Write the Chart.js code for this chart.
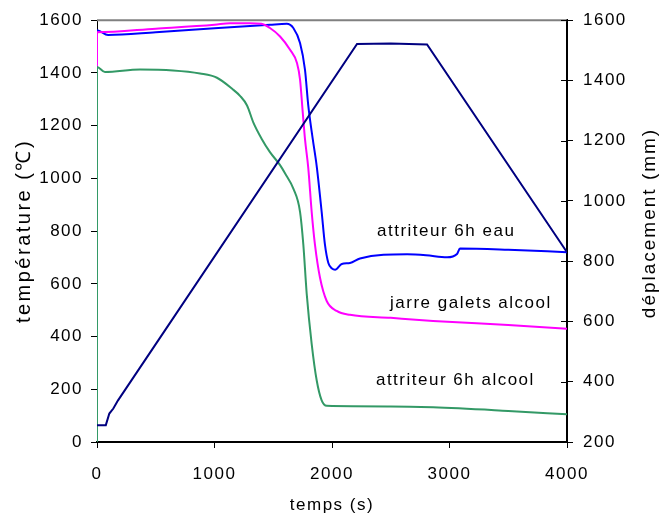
<!DOCTYPE html>
<html>
<head>
<meta charset="utf-8">
<script src="https://cdn.jsdelivr.net/npm/chart.js@4/dist/chart.umd.min.js"></script>
<style>
  html, body { margin: 0; padding: 0; background: #fff; }
  #wrap { width: 662px; height: 517px; }
</style>
</head>
<body>
<div id="wrap"><canvas id="chart" width="662" height="517"></canvas></div>
<script>
/* ---------- Données ---------- */
// temps (s) / température (°C) - axe gauche
const tempsCycle = [0, 75, 105, 139, 179, 2213, 2500, 2809, 4000];
const temperature = [64, 64, 108, 127, 158, 1510, 1512, 1508, 720];

// déplacement (mm) - axe droit
const tempsEau = [0, 0, 94, 500, 1000, 1472, 1615, 1671, 1728, 1770, 1798, 1836, 1870, 1912, 1940, 1969, 2000, 2026, 2083, 2153, 2238, 2639, 2800, 2979, 3064, 3089, 3500, 4000];
const depEau = [200, 1567, 1551, 1560, 1573, 1585, 1588, 1574, 1524, 1436, 1317, 1206, 1115, 964, 855, 794, 776, 772, 791, 794, 809, 823, 820, 813, 824, 842, 838, 830];

const tempsJarre = [0, 0, 500, 1000, 1132, 1300, 1400, 1472, 1558, 1643, 1702, 1728, 1751, 1770, 1798, 1827, 1855, 1898, 1955, 2040, 2153, 2500, 2860, 3500, 4000];
const depJarre = [200, 1560, 1572, 1585, 1590, 1590, 1588, 1574, 1546, 1502, 1458, 1403, 1294, 1206, 1110, 964, 855, 745, 668, 635, 622, 612, 602, 588, 576];

const tempsAlcool = [0, 0, 68, 366, 647, 877, 1021, 1157, 1217, 1277, 1330, 1402, 1472, 1558, 1600, 1671, 1728, 1756, 1785, 1827, 1870, 1912, 1955, 2500, 2860, 3500, 4000];
const depAlcool = [200, 1445, 1428, 1436, 1433, 1423, 1409, 1370, 1349, 1317, 1261, 1206, 1162, 1119, 1092, 1041, 964, 855, 691, 526, 404, 338, 320, 318, 315, 303, 292];

// étiquettes dans le graphique (position en unités des axes x / gauche)
const etiquettes = ['attriteur 6h eau', 'jarre galets alcool', 'attriteur 6h alcool'];
const etiquettesX = [2383, 2494, 2374];
const etiquettesY = [798, 527, 233];

const titreX = 'temps (s)';
const titreY = 'température (℃)';
const titreY2 = 'déplacement (mm)';

const FONT = 'Arial, "Liberation Sans", sans-serif';

function toPoints(xs, ys) {
    return xs.map((x, i) => ({ x: x, y: ys[i] }));
}

function texteVertical(ctx, txt, x, y, size, spacing) {
    ctx.save();
    ctx.translate(x, y);
    ctx.rotate(-Math.PI / 2);
    ctx.font = size + 'px ' + FONT;
    ctx.letterSpacing = spacing + 'px';
    ctx.textAlign = 'center';
    ctx.textBaseline = 'middle';
    ctx.fillText(txt, 0, 0);
    ctx.restore();
}

/* ---------- Plugin : bordure, graduations internes, titres, étiquettes ---------- */
const decorPlugin = {
    id: 'decor',
    beforeDraw(chart) {
        chart.ctx.letterSpacing = '1.5px';
    },
    afterDraw(chart) {
        const ctx = chart.ctx;
        const area = chart.chartArea;
        const x = chart.scales.x;
        const y = chart.scales.y;
        const y2 = chart.scales.y2;
        ctx.save();
        // ligne du haut (grise)
        ctx.strokeStyle = '#808080';
        ctx.lineWidth = 2;
        ctx.beginPath();
        ctx.moveTo(area.left, area.top);
        ctx.lineTo(area.right, area.top);
        ctx.stroke();

        // graduations internes de l'axe droit
        ctx.strokeStyle = '#000';
        ctx.lineWidth = 1;
        y2.ticks.forEach(t => {
            const py = Math.round(y2.getPixelForValue(t.value)) + 0.5;
            ctx.beginPath();
            ctx.moveTo(area.right - 6, py);
            ctx.lineTo(area.right, py);
            ctx.stroke();
        });

        // étiquettes des courbes
        ctx.fillStyle = '#000';
        ctx.font = '17px ' + FONT;
        ctx.letterSpacing = '1.5px';
        ctx.textBaseline = 'middle';
        ctx.textAlign = 'left';
        etiquettes.forEach((txt, i) => {
            ctx.fillText(txt, x.getPixelForValue(etiquettesX[i]), y.getPixelForValue(etiquettesY[i]));
        });

        // titres des axes
        ctx.textAlign = 'center';
        ctx.fillText(titreX, (area.left + area.right) / 2, 505);
        texteVertical(ctx, titreY, 24, 231, 20, 2.5);
        texteVertical(ctx, titreY2, 650, 223, 19, 2);
        ctx.restore();
    }
};

/* ---------- Graphique ---------- */
const tickFont = { size: 17, family: FONT };
const ctx = document.getElementById('chart').getContext('2d');
new Chart(ctx, {
    type: 'line',
    data: {
        datasets: [
            { label: 'température', data: toPoints(tempsCycle, temperature), yAxisID: 'y', borderColor: '#000080', borderWidth: 2, cubicInterpolationMode: 'default', tension: 0 },
            { label: 'attriteur 6h alcool', data: toPoints(tempsAlcool, depAlcool), yAxisID: 'y2', borderColor: '#339966', borderWidth: 2, cubicInterpolationMode: 'monotone' },
            { label: 'jarre galets alcool', data: toPoints(tempsJarre, depJarre), yAxisID: 'y2', borderColor: '#FF00FF', borderWidth: 2, cubicInterpolationMode: 'monotone' },
            { label: 'attriteur 6h eau', data: toPoints(tempsEau, depEau), yAxisID: 'y2', borderColor: '#0000FF', borderWidth: 2, cubicInterpolationMode: 'monotone' }
        ]
    },
    options: {
        responsive: false,
        animation: false,
        elements: { point: { radius: 0 } },
        layout: { padding: { top: 17, left: 0, right: 0, bottom: 0 } },
        plugins: { legend: { display: false }, tooltip: { enabled: false } },
        scales: {
            x: {
                type: 'linear', min: 0, max: 4000,
                ticks: { stepSize: 1000, color: '#000', font: tickFont, padding: 16, callback: v => String(v) },
                grid: { drawOnChartArea: false, color: '#000', tickLength: 6 },
                border: { color: '#000', width: 2 },
                afterFit: s => { s.height = 75; }
            },
            y: {
                position: 'left', min: 0, max: 1600,
                ticks: { stepSize: 200, color: '#000', font: tickFont, padding: 8, callback: v => String(v) },
                grid: { drawOnChartArea: false, color: '#000', tickLength: 6 },
                border: { color: '#000', width: 1 },
                afterFit: s => { s.width = 97; }
            },
            y2: {
                position: 'right', min: 200, max: 1600,
                ticks: { stepSize: 200, color: '#000', font: tickFont, padding: 10, callback: v => String(v) },
                grid: { drawOnChartArea: false, color: '#000', tickLength: 6 },
                border: { color: '#000', width: 2 },
                afterFit: s => { s.width = 95; }
            }
        }
    },
    plugins: [decorPlugin]
});
</script>
</body>
</html>
